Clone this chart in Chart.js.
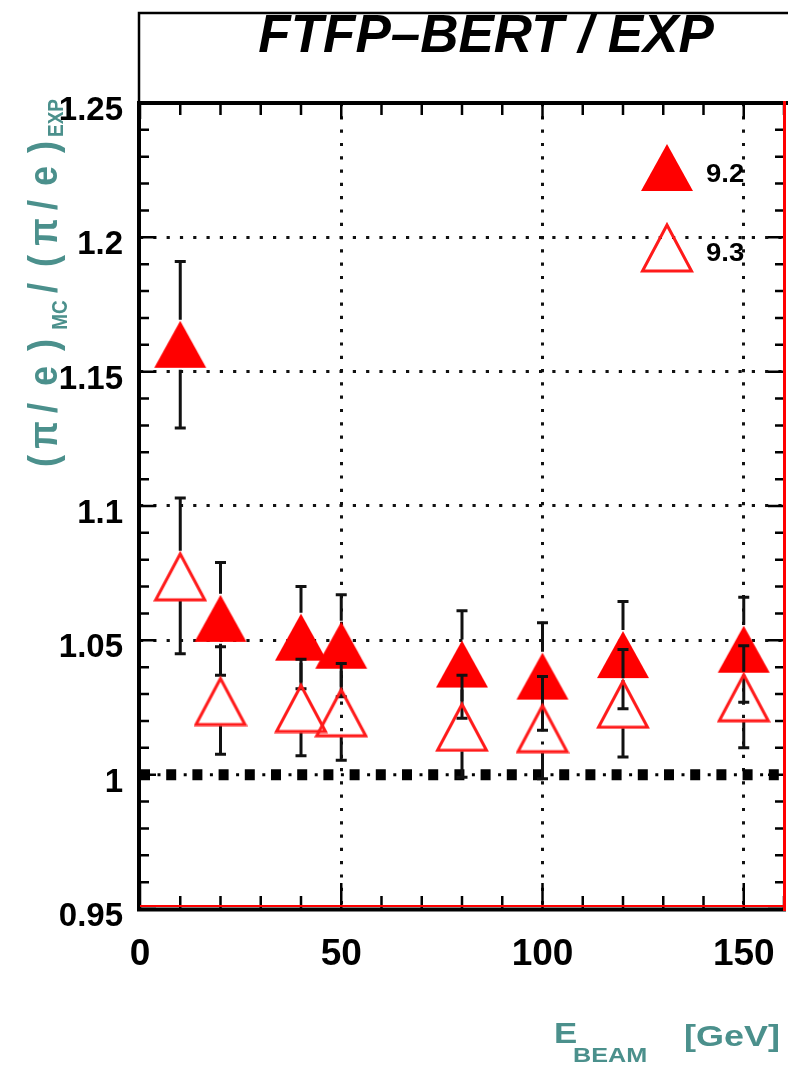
<!DOCTYPE html>
<html>
<head>
<meta charset="utf-8">
<script src="https://cdn.jsdelivr.net/npm/chart.js@4.4.0/dist/chart.umd.min.js"></script>
<style>
  html, body { margin: 0; padding: 0; background: #ffffff; }
  #wrap { width: 788px; height: 1065px; position: relative; }
</style>
</head>
<body>
<div id="wrap"><canvas id="c"></canvas></div>
<script>
// Beam energies [GeV]
const energies = [10, 20, 40, 50, 80, 100, 120, 150];
// (pi/e)_MC / (pi/e)_EXP for the two Geant4 versions, with uncertainties
const ratio92 = [1.160, 1.058, 1.051, 1.048, 1.041, 1.0365, 1.0445, 1.0465];
const err92   = [0.031, 0.021, 0.019, 0.019, 0.020, 0.020, 0.020, 0.0195];
const ratio93 = [1.074, 1.0276, 1.025, 1.0234, 1.018, 1.0175, 1.0266, 1.029];
const err93   = [0.029, 0.020, 0.018, 0.018, 0.019, 0.019, 0.020, 0.019];
const seriesLabels = ['9.2', '9.3'];
const referenceLevel = 1;

const xTickValues = [0, 50, 100, 150];
const xTickLabels = ['0', '50', '100', '150'];
const yTickValues = [0.95, 1, 1.05, 1.1, 1.15, 1.2, 1.25];
const yTickLabels = ['0.95', '1', '1.05', '1.1', '1.15', '1.2', '1.25'];

const titleText = 'FTFP\u2013BERT / EXP';
const FONT = '"Liberation Sans", Arial, Helvetica, sans-serif';
const TEAL = '#4b908c';
Chart.defaults.font.family = FONT;

// Triangle marker images (centered on their bounding box)
function makeTriangle(filled) {
  const w = 54, h = 52;
  const c = document.createElement('canvas');
  c.width = w; c.height = h;
  const g = c.getContext('2d');
  g.beginPath();
  if (filled) {
    g.moveTo(w / 2, 2); g.lineTo(w - 1, h - 3); g.lineTo(1, h - 3); g.closePath();
    g.fillStyle = '#ff0000'; g.fill();
  } else {
    g.moveTo(w / 2, 4); g.lineTo(w - 2.5, h - 2); g.lineTo(2.5, h - 2); g.closePath();
    g.lineWidth = 3; g.strokeStyle = '#ff1a1a'; g.stroke();
  }
  return c;
}
const triFilled = makeTriangle(true);
const triOpen = makeTriangle(false);

const toPoints = (xs, ys) => xs.map((x, i) => ({ x: x, y: ys[i] }));

// Error bars with a gap around the marker, drawn just before each dataset
const errorBarPlugin = {
  id: 'errorBars',
  beforeDatasetDraw(chart, args) {
    const ds = chart.data.datasets[args.index];
    if (!ds.errors) return;
    const ctx = chart.ctx, ys = chart.scales.y;
    ctx.save();
    ctx.strokeStyle = '#111';
    ctx.lineWidth = 3;
    args.meta.data.forEach((pt, i) => {
      const v = ds.data[i].y, e = ds.errors[i];
      const top = ys.getPixelForValue(v + e), bot = ys.getPixelForValue(v - e);
      const gap = 25;
      ctx.beginPath();
      if (pt.y - gap > top) { ctx.moveTo(pt.x, top); ctx.lineTo(pt.x, pt.y - gap); }
      if (pt.y + gap < bot) { ctx.moveTo(pt.x, pt.y + gap); ctx.lineTo(pt.x, bot); }
      ctx.moveTo(pt.x - 5.5, top); ctx.lineTo(pt.x + 5.5, top);
      ctx.moveTo(pt.x - 5.5, bot); ctx.lineTo(pt.x + 5.5, bot);
      ctx.stroke();
    });
    ctx.restore();
  }
};

// Frame, tick marks, title box, axis titles and legend
const decorPlugin = {
  id: 'decor',
  afterDraw(chart) {
    const { ctx, chartArea: a, scales: { x, y } } = chart;
    ctx.save();

    // title box
    ctx.strokeStyle = '#000';
    ctx.lineWidth = 2.5;
    ctx.beginPath();
    ctx.moveTo(139, a.top);
    ctx.lineTo(139, 13);
    ctx.lineTo(800, 13);
    ctx.stroke();
    ctx.fillStyle = '#000';
    ctx.font = 'italic bold 53px ' + FONT;
    ctx.textAlign = 'center';
    ctx.textBaseline = 'middle';
    ctx.fillText(titleText, 486, 37);

    // tick marks
    ctx.lineWidth = 2.5;
    ctx.strokeStyle = '#000';
    ctx.beginPath();
    for (let i = 0; i <= 30; i++) {
      const py = y.getPixelForValue(0.95 + i * 0.01);
      const len = i % 5 === 0 ? 16 : 9;
      ctx.moveTo(a.left, py); ctx.lineTo(a.left + len, py);
      ctx.moveTo(a.right, py); ctx.lineTo(a.right - len, py);
    }
    for (let i = 0; i <= 16; i++) {
      const px = x.getPixelForValue(i * 10);
      const major = i % 5 === 0;
      ctx.moveTo(px, a.bottom); ctx.lineTo(px, a.bottom - (major ? 26 : 13));
      ctx.moveTo(px, a.top); ctx.lineTo(px, a.top + (major ? 16 : 12));
    }
    ctx.stroke();

    // axes frame
    ctx.lineCap = 'square';
    ctx.strokeStyle = '#000';
    ctx.lineWidth = 4;
    ctx.beginPath();
    ctx.moveTo(a.left - 1, a.top); ctx.lineTo(a.left - 1, a.bottom + 0.5);
    ctx.moveTo(a.left - 1, a.bottom + 0.5); ctx.lineTo(a.right, a.bottom + 0.5);
    ctx.moveTo(a.left - 1, a.top); ctx.lineTo(788, a.top);
    ctx.stroke();
    ctx.lineCap = 'butt';
    ctx.strokeStyle = '#ff0000';
    ctx.lineWidth = 2;
    ctx.beginPath();
    ctx.moveTo(a.left, a.bottom - 3); ctx.lineTo(a.right, a.bottom - 3);
    ctx.stroke();
    ctx.lineWidth = 3;
    ctx.beginPath();
    ctx.moveTo(a.right + 0.5, a.top - 2); ctx.lineTo(a.right + 0.5, a.bottom + 2);
    ctx.stroke();

    // y-axis title: (π / e)_MC / (π / e)_EXP, rotated
    ctx.fillStyle = TEAL;
    const rotChar = (txt, cy, bx, size) => {
      ctx.save();
      ctx.translate(bx, cy);
      ctx.rotate(-Math.PI / 2);
      ctx.scale(1, 1.15);
      ctx.font = 'bold ' + size + 'px ' + FONT;
      ctx.textAlign = 'center';
      ctx.textBaseline = 'alphabetic';
      ctx.fillText(txt, 0, 0);
      ctx.restore();
    };
    [['(', 461], ['\u03c0', 435], ['/', 408], ['e', 376], [')', 345],
     ['/', 288], ['(', 261], ['\u03c0', 232], ['/', 205], ['e', 176], [')', 147]]
      .forEach(([ch, cy]) => rotChar(ch, cy, 57, 36));
    rotChar('MC', 315, 67, 19);
    rotChar('EXP', 118, 63, 19);

    // x-axis title: E_BEAM [GeV]
    const wideText = (txt, lx, by, size) => {
      ctx.save();
      ctx.translate(lx, by);
      ctx.scale(1.2, 1);
      ctx.font = 'bold ' + size + 'px ' + FONT;
      ctx.textAlign = 'left';
      ctx.textBaseline = 'alphabetic';
      ctx.fillText(txt, 0, 0);
      ctx.restore();
    };
    wideText('E', 554, 1043, 29);
    wideText('BEAM', 573, 1062, 21);
    wideText('[GeV]', 684, 1046, 30);

    // legend
    ctx.drawImage(triFilled, 667 - triFilled.width / 2, 168 - triFilled.height / 2);
    ctx.drawImage(triOpen, 667 - triOpen.width / 2, 247 - triOpen.height / 2);
    ctx.fillStyle = '#000';
    ctx.save();
    ctx.font = 'bold 25px ' + FONT;
    ctx.textAlign = 'left';
    ctx.textBaseline = 'middle';
    ctx.translate(706, 0);
    ctx.scale(1.1, 1);
    ctx.fillText(seriesLabels[0], 0, 175);
    ctx.fillText(seriesLabels[1], 0, 254);
    ctx.restore();

    ctx.restore();
  }
};

const gridColorY = (c) => (c.tick && c.tick.value > 1.001 && c.tick.value < 1.249) ? '#111' : 'rgba(0,0,0,0)';
const gridColorX = (c) => (c.tick && c.tick.value > 0.5) ? '#111' : 'rgba(0,0,0,0)';

new Chart(document.getElementById('c'), {
  type: 'scatter',
  data: {
    datasets: [
      {
        label: 'reference',
        data: [{ x: 0, y: referenceLevel }, { x: 160, y: referenceLevel }],
        showLine: true, pointRadius: 0,
        borderColor: '#000', borderWidth: 11,
        borderDash: [10, 16.2], borderCapStyle: 'butt',
        order: 4
      },
      {
        label: 'reference-dots',
        data: [{ x: 0, y: referenceLevel }, { x: 160, y: referenceLevel }],
        showLine: true, pointRadius: 0,
        borderColor: '#000', borderWidth: 3,
        borderDash: [3, 23.2], borderDashOffset: 8.7, borderCapStyle: 'butt',
        order: 3
      },
      {
        label: seriesLabels[0],
        data: toPoints(energies, ratio92),
        errors: err92,
        pointStyle: triFilled, pointRadius: 25,
        order: 2
      },
      {
        label: seriesLabels[1],
        data: toPoints(energies, ratio93),
        errors: err93,
        pointStyle: triOpen, pointRadius: 25,
        order: 1
      }
    ]
  },
  options: {
    responsive: true,
    maintainAspectRatio: false,
    animation: false,
    events: [],
    layout: { autoPadding: false, padding: { top: 103, right: 4, left: 0, bottom: 0 } },
    plugins: { legend: { display: false }, tooltip: { enabled: false } },
    scales: {
      x: {
        type: 'linear', min: 0, max: 160,
        afterBuildTicks: (s) => { s.ticks = xTickValues.map(v => ({ value: v })); },
        afterFit: (s) => { s.height = 156; s.paddingLeft = 0; s.paddingRight = 0; },
        ticks: {
          padding: 24,
          color: '#000',
          font: { size: 37, weight: 'bold' },
          maxRotation: 0,
          autoSkip: false,
          callback: (v) => xTickLabels[xTickValues.indexOf(v)]
        },
        grid: { color: gridColorX, lineWidth: 3, drawTicks: false },
        border: { display: false, dash: [3.2, 10.1] }
      },
      y: {
        type: 'linear', min: 0.95, max: 1.25,
        afterBuildTicks: (s) => { s.ticks = yTickValues.map(v => ({ value: v })); },
        afterFit: (s) => { s.width = 140; s.paddingTop = 0; s.paddingBottom = 0; },
        ticks: {
          padding: 17,
          labelOffset: 8,
          color: '#000',
          font: { size: 33, weight: 'bold' },
          autoSkip: false,
          callback: (v) => {
            const i = yTickValues.findIndex(t => Math.abs(t - v) < 1e-6);
            return yTickLabels[i];
          }
        },
        grid: { color: gridColorY, lineWidth: 3, drawTicks: false },
        border: { display: false, dash: [3.2, 10.1] }
      }
    }
  },
  plugins: [errorBarPlugin, decorPlugin]
});
</script>
</body>
</html>
